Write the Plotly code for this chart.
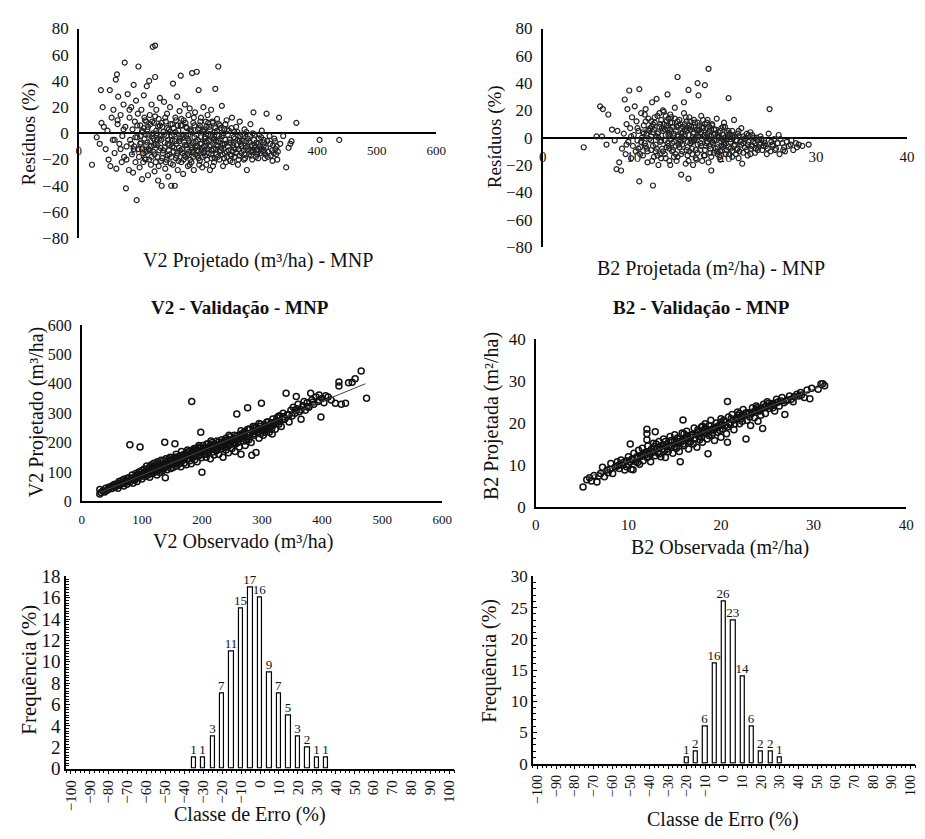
import plotly.graph_objects as go

FONT = "'Liberation Serif', 'Times New Roman', Times, 'DejaVu Serif', serif"

# ---------------- data ----------------
# Panel 1: V2 residuals (x = V2 projetado m3/ha, y = residuo %)
v2_res = [
 (22,-24),(30,-3),(35,-8),(37,33),(38,8),(40,20),(42,5),(45,-12),(48,2),(50,-20),(52,33),(53,-25),(55,12),(57,-5),(58,18),(60,-15),
 (62,41),(63,-27),(64,45),(65,7),(66,28),(68,-8),(70,14),(72,-22),(73,-2),(75,22),(76,-18),(77,54),(78,5),(79,-42),(80,-10),
 (82,30),(84,-28),(85,12),(86,-5),(88,20),(89,-16),(90,3),(91,-30),(92,37),(93,-10),(94,9),(95,-22),(96,25),(97,-51),(98,-3),(99,15),
 (100,51),(100,-12),(102,-26),(103,6),(104,-7),(105,18),(106,-35),(107,1),(108,-15),(109,29),(110,-4),(111,10),(112,-20),(113,-9),
 (114,36),(115,3),(116,-32),(117,-12),(118,40),(119,14),(120,-6),(121,-24),(122,22),(123,-2),(124,66),(125,-14),(126,8),(127,-29),
 (128,67),(128,43),(129,-8),(130,18),(131,0),(132,-18),(133,-36),(134,11),(135,-4),(136,27),(137,-11),(138,-21),(139,-40),(140,5),
 (142,-13),(143,24),(144,-7),(145,-27),(146,9),(147,-2),(148,15),(149,-17),(150,-33),(151,3),(152,-9),(153,20),(154,-23),(155,-40),
 (156,-5),(157,7),(158,38),(159,-14),(160,-1),(161,-40),(162,12),(163,-19),(164,-8),(165,28),(166,-28),(167,2),(168,-11),(169,17),
 (170,-4),(171,44),(172,-22),(173,6),(174,-15),(175,-31),(176,10),(177,-7),(178,22),(179,-18),(180,-2),(181,4),(182,-12),(183,-25),
 (184,14),(185,-6),(186,19),(187,-20),(188,-9),(189,1),(190,46),(191,-14),(192,8),(193,-28),(194,-3),(195,16),(196,-11),(198,47),
 (199,-17),(200,-5),(201,33),(202,4),(203,-21),(204,-8),(205,12),(206,-13),(207,-26),(208,2),(209,20),(210,-10),(211,-4),(212,-17),
 (213,9),(214,-24),(215,-7),(216,14),(217,-1),(218,-15),(219,5),(220,-28),(221,-9),(222,18),(223,-19),(224,-3),(225,8),(226,-12),
 (227,-22),(228,1),(229,34),(230,-6),(231,-16),(232,11),(233,-10),(234,51),(235,-2),(236,-20),(237,6),(238,-13),(240,21),(241,-8),
 (242,-25),(244,3),(245,-15),(246,-5),(248,10),(249,-18),(250,-10),(252,2),(254,-21),(255,-7),(257,12),(258,-14),(260,-3),
 (262,-18),(264,5),(265,-9),(267,-24),(268,-12),(270,9),(271,-2),(273,-15),(275,-6),(277,-20),(278,3),(280,-11),(282,-28),(284,-4),
 (286,-16),(288,7),(290,-9),(292,-13),(293,16),(295,-1),(297,-18),(298,-7),(300,-12),(302,-4),(305,-15),(307,2),(310,-10),(312,-19),
 (315,15),(316,-6),(318,-14),(320,-2),(322,-17),(325,-21),(326,-9),(328,-4),(330,-12),(331,-16),(333,-20),(336,12),(338,-8),
 (343,-2),(348,-26),(352,-11),(355,-8),(357,-6),(365,8),(404,-5),(437,-5),
 (92,-12),(95,-3),(98,6),(101,-18),(103,-8),(106,2),(108,-22),(110,12),(112,-1),(114,-14),(116,5),(118,-20),(121,-10),(123,9),
 (125,-4),(127,-16),(130,2),(132,-9),(134,-25),(136,6),(138,-5),(141,-15),(143,-1),(145,12),(147,-20),(149,-8),(151,-13),(153,1),
 (155,-18),(157,-10),(159,4),(161,-6),(163,10),(165,-15),(167,-21),(169,-3),(171,6),(173,-12),(175,-1),(177,-17),(179,8),(181,-9),
 (183,-4),(185,-14),(187,3),(189,-22),(191,-7),(193,12),(195,-16),(197,-1),(199,-10),(201,-19),(203,6),(205,-3),(207,-11),(209,-15),
 (211,3),(213,-6),(215,-20),(217,8),(219,-10),(221,-2),(223,-13),(225,-25),(227,-5),(229,4),(231,-9),(233,-18),(235,7),(237,-4),
 (239,-11),(241,-16),(243,0),(245,-8),(247,-22),(249,3),(251,-13),(253,-5),(256,-17),(259,-9),(261,1),(263,-12),(266,-5),(269,-17),
 (272,-8),(274,-1),(276,-13),(279,-19),(281,-6),(283,-10),(287,-2),(289,-14),(291,-20),(294,-5),(296,-11),(299,-16),(301,-8),
 (304,-10),(306,-3),(309,-14),(311,-7),(314,-11),(317,-18),(321,-8),(324,-13),(327,-15),(329,-6),(332,-10),(334,-14),(60,-5),
 (65,10),(70,-12),(75,3),(80,-20),(85,18),(88,-8),
 (104,-2),(106,-12),(109,4),(111,-19),(113,9),(115,-7),(117,-1),(119,-13),(120,7),(122,-18),(124,0),(126,-9),(128,13),(129,-22),
 (131,-5),(133,5),(135,-13),(137,-2),(139,8),(140,-19),(142,1),(144,-11),(146,-22),(148,4),(150,-5),(152,-16),(154,7),(156,-2),
 (158,-24),(160,-11),(162,1),(164,-17),(166,6),(168,-6),(170,-13),(172,11),(174,-3),(176,-20),(178,-9),(180,5),(182,-16),(184,-1),
 (186,-24),(188,2),(190,-11),(192,-18),(194,6),(196,-6),(198,-13),(200,3),(202,-24),(204,9),(206,-8),(208,-18),(210,1),(212,-3),
 (214,5),(216,-12),(218,-6),(220,3),(222,-16),(224,9),(226,-4),(228,-19),(230,-12),(232,2),(234,-6),(236,-14),(238,4),(240,-2),
 (242,-9),(244,-19),(246,7),(248,-14),(250,-1),(252,-7),(254,-16),(256,4),(258,-22),(260,-11),(262,-4),(264,-15),(266,1),(268,-20),
 (270,-6),(273,-10),(276,-2),(278,-16),(281,1),(284,-12),(286,-7),(289,-17),(292,0),(295,-9),(298,-13),(301,-19),(303,-1),
 (307,-12),(310,-5),(313,-16),
]

# Panel 2: B2 residuals (x = B2 projetada m2/ha, y = residuo %)
b2_res = [
 (4.5,-7),(5.9,1),(6.3,23),(6.5,1),(6.6,21),(7.0,-5),(7.2,17),(7.6,6),(7.9,-2),(8.1,-23),(8.2,5),(8.4,-18),(8.6,-24),(8.7,-8),
 (8.9,3),(9.0,28),(9.1,-12),(9.2,10),(9.3,21),(9.4,-3),(9.5,34.6),(9.6,7),(9.7,-15),(9.8,15),(9.9,-6),(10.0,2),
 (10.1,23),(10.2,-10),(10.3,12),(10.4,-2),(10.5,5),(10.6,35.6),(10.6,-32),(10.7,-7),(10.8,18),(10.9,0),(11.0,-13),(11.1,9),(11.2,-4),
 (11.3,21),(11.4,3),(11.5,-18),(11.6,14),(11.7,-1),(11.8,7),(11.9,-9),(12.0,26),(12.1,-35),(12.1,4),(12.2,-14),(12.3,11),(12.4,-5),
 (12.5,28.5),(12.5,1),(12.6,16),(12.7,-20),(12.8,8),(12.9,-3),(13.0,13),
 (13.1,-8),(13.2,5),(13.3,19),(13.4,-12),(13.5,2),(13.6,9),(13.7,31.7),(13.7,-4),(13.8,14),(13.9,-17),(14.0,6),(14.1,-1),(14.2,11),
 (14.3,-9),(14.4,3),(14.5,22),(14.6,-6),(14.7,8),(14.8,44.5),(14.8,-14),(14.9,1),(15.0,13),(15.1,-3),(15.2,-27),(15.2,7),(15.3,-10),
 (15.4,4),(15.5,26),(15.5,-1),(15.6,10),(15.7,-19),(15.8,5),(15.9,-7),(16.0,35),(16.0,-30),(16.0,2),(16.1,15),(16.2,-4),(16.3,8),
 (16.4,-12),(16.5,3),(16.6,-2),(16.7,11),(16.8,-15),(16.9,6),(17.0,40),(17.0,-5),
 (17.1,31),(17.1,1),(17.2,9),(17.3,-9),(17.4,4),(17.5,-1),(17.6,13),(17.7,-13),(17.8,38.5),(17.8,2),(17.9,-6),(18.0,7),(18.1,-3),
 (18.2,50.5),(18.2,-18),(18.3,5),(18.4,-8),(18.5,-24),(18.5,1),(18.6,10),(18.7,-4),(18.8,-11),(18.9,3),(19.0,-2),(19.1,14),(19.2,-7),
 (19.3,0),(19.4,-14),(19.5,5),(19.6,-3),(19.7,-9),(19.8,2),(19.9,-5),(20.0,8),(20.1,-12),(20.2,-1),(20.4,29),(20.4,-7),(20.5,3),
 (20.6,-3),(20.8,-10),(20.9,0),
 (21.0,13),(21.1,-5),(21.3,-2),(21.4,-8),(21.6,1),(21.8,7),(21.9,-19),(22.0,-4),(22.2,-1),(22.4,-9),(22.6,2),(22.8,4),(22.9,-6),
 (23.1,-3),(23.3,-11),(23.5,0),(23.7,-7),(23.9,-4),(24.1,-9),(24.3,-2),(24.5,-6),(24.8,3),(24.9,21),(25.0,-10),
 (25.2,-5),(25.4,-1),(25.6,-8),(25.9,2),(26.0,-12),(26.3,-4),(26.5,-7),(26.8,-3),(27.0,-6),(27.5,-9),(27.8,-4),(28.1,-5),(28.5,-6),(29.2,-5),
 (12.2,6),(12.7,0),(13.3,10),(13.9,3),(14.4,-3),(14.9,9),(15.3,0),(15.8,12),(16.2,6),(16.7,-1),(17.3,3),(17.8,-9),(18.3,-1),(18.8,6),
 (19.2,2),(19.7,-1),(20.2,4),(13.5,16),(14.2,-10),(16.4,-8),(11.4,-8),(11.9,12),(17.5,8),(19.5,-10),(21.2,-12),(22.5,-13),(14.0,17),
 (15.0,-7),(18.0,11),(20.8,5),
 (11.0,4),(11.3,-6),(11.6,6),(11.9,-2),(12.1,10),(12.4,-10),(12.6,3),(12.9,-12),(13.1,7),(13.4,-2),(13.6,12),(13.8,-6),(14.1,4),
 (14.3,8),(14.6,-12),(14.8,2),(15.1,10),(15.3,-5),(15.6,6),(15.9,-13),(16.1,9),(16.3,-2),(16.6,13),(16.8,-9),(17.1,5),(17.3,-4),
 (17.6,7),(17.8,-13),(18.1,3),(18.3,-6),(18.6,9),(18.8,-2),(19.1,-10),(19.3,4),(19.6,-6),(19.8,8),(20.1,-4),(20.3,2),(20.6,-8),
 (20.8,-14),(21.1,1),(21.3,-9),(21.5,5),(21.7,-3),(22.0,-11),(22.3,0),(22.5,-5),(22.8,-8),(23.0,2),(23.3,-4),(23.6,-9),(23.9,1),
 (24.2,-6),(24.6,-12),(25.1,-3),(25.5,-9),(26.1,-1),(26.6,-10),(27.2,-5),(10.4,7),(10.7,-12),(9.7,1),(9.2,-5),(13.0,-15),(14.5,14),
 (16.0,-17),(17.0,11),(18.5,-14),(19.9,11),(15.5,18),(12.0,-17),(14.0,-20),(16.5,-20),(13.2,20),(17.4,16),
 (10.8,-3),(11.1,3),(11.3,12),(11.5,-10),(11.7,5),(11.9,1),(12.1,-6),(12.3,15),(12.5,-8),(12.7,4),(12.9,10),(13.0,-2),(13.2,-10),
 (13.4,6),(13.6,-7),(13.8,2),(14.0,11),(14.2,-4),(14.4,-14),(14.6,5),(14.8,12),(15.0,-1),(15.2,-12),(15.4,8),(15.6,2),(15.8,-9),
 (16.0,7),(16.2,12),(16.4,-3),(16.6,4),(16.8,0),(17.0,-11),(17.2,6),(17.4,-6),(17.6,1),(17.8,10),(18.0,-4),(18.2,4),(18.4,-11),
 (18.6,-3),(18.8,2),(19.0,6),(19.2,-12),(19.4,1),(19.6,7),(19.8,-7),(20.0,0),(20.2,-9),(20.4,5),(20.6,-1),(20.8,2),(21.0,-6),
 (21.2,-2),(21.4,3),(21.6,-10),(21.8,-5),(22.0,1),(22.2,-7),(22.4,3),(22.6,-3),(22.8,-12),(23.0,-6),(23.2,0),(23.4,-8),(23.6,-2),
 (23.8,-5),(24.0,-1),(24.4,-4),(24.7,-8),(25.3,-6),(25.8,-4),(26.4,-9),(27.3,-2),(27.9,-7),(12.0,8),(12.6,-13),(13.5,-15),(14.1,15),
 (15.7,15),(16.9,-16),(18.1,13),(19.5,-16),(10.5,-8),(11.2,17),(13.9,-8),(15.9,-3),(17.9,0),(19.9,-3),(14.7,-17),(16.1,-10),
 (12.8,18),(13.7,7),(15.2,3),(16.6,8),(18.3,8),(19.0,-8),(20.5,-12),(21.5,-15),(17.5,-17),(14.9,-5),
]

# Panel 3: V2 validation (x = observado, y = projetado)
v2_val = [
 (30,25),(30,40),(32,30),(35,35),(38,32),(40,45),(42,38),(45,42),(48,50),(50,44),(52,55),(55,48),(57,52),(60,60),(60,45),(62,55),
 (65,58),(66,70),(68,62),(70,52),(70,75),(72,65),(75,70),(75,58),(78,80),(80,66),(80,193),(82,74),(84,90),(85,62),(87,80),(88,72),
 (90,95),(90,78),(92,68),(93,85),(95,100),(95,80),(97,185),(98,88),(100,76),(100,105),
 (102,92),(104,110),(105,85),(107,98),(108,120),(110,90),(110,102),(112,115),(113,82),(115,108),(116,125),(118,96),(120,112),
 (120,130),(122,100),(124,118),(125,90),(126,135),(128,108),(130,122),(130,98),(132,140),(134,115),(135,105),(136,128),(138,201),
 (139,80),(140,118),(140,145),(142,108),(144,132),(145,122),(147,150),(148,112),(150,138),(150,125),(152,115),(154,148),(155,196),
 (155,130),(157,160),(158,120),(160,142),(160,135),(162,128),(164,155),(165,118),(166,170),(168,140),(170,148),(170,130),(172,162),
 (174,125),(175,155),(176,175),(178,145),(180,138),(180,160),(182,128),(183,340),(184,168),(185,150),(187,180),(188,142),(190,160),
 (190,170),(192,135),(194,185),(195,155),(197,165),(198,235),(199,148),(200,99),(200,175),
 (202,190),(204,160),(205,170),(207,150),(208,182),(210,195),(210,165),(212,175),(214,145),(215,188),(217,200),(218,168),(220,180),
 (220,158),(222,195),(224,172),(225,205),(227,185),(228,160),(230,192),(232,178),(233,210),(235,150),(236,198),(238,185),(240,175),
 (240,215),(242,200),(244,165),(245,190),(247,220),(248,205),(250,180),(252,195),(254,225),(255,170),(257,210),(258,297),(260,200),
 (262,185),(264,228),(265,160),(267,215),(268,205),(270,235),(272,190),(274,220),(276,318),(276,245),(278,210),(280,230),(282,200),
 (283,157),(285,240),(287,225),(290,166),(290,250),(292,235),(295,215),(297,255),(299,334),(300,240),
 (302,225),(305,260),(308,245),(310,270),(312,235),(315,255),(317,229),(318,280),(320,265),(322,245),(325,285),(328,270),(330,290),
 (332,255),(335,300),(338,280),(340,368),(342,295),(345,270),(348,310),(350,290),(352,320),(355,300),(357,357),(358,315),(360,330),
 (362,305),(365,279),(368,325),(370,340),(372,310),(375,335),(378,320),(381,368),(383,345),(386,330),(390,355),(393,340),(395,362),
 (398,287),(400,350),(403,335),(406,359),(410,355),(415,345),(422,334),(428,392),(428,406),(432,330),(439,334),(444,403),(450,405),
 (455,417),(465,443),(474,351),
 (45,48),(55,58),(65,62),(75,78),(85,80),(95,92),(105,100),(115,115),(125,112),(135,122),(145,135),(155,140),(165,150),(175,165),
 (185,160),(195,170),(205,180),(215,178),(225,190),(235,200),(245,210),(255,215),(265,225),(275,232),(285,238),(295,248),(305,250),
 (315,268),(325,275),(335,288),(345,295),(355,310),(365,312),(375,322),(385,338),(395,345),(62,68),(78,72),(92,88),(108,108),
 (118,106),(128,125),(138,130),(148,128),(158,150),(168,158),(178,158),(188,170),(198,182),(208,195),(218,188),(228,202),(238,208),
 (248,195),(258,222),(268,230),(278,245),(288,255),(298,262),(308,270),(318,258),(328,290),
 (100,90),(106,95),(112,104),(118,118),(124,105),(130,115),(136,138),(142,125),(148,140),(154,135),(160,150),(166,145),(172,150),
 (178,170),(184,155),(190,180),(196,160),(202,175),(208,168),(214,190),(220,195),(226,178),(232,200),(238,195),(244,205),(250,210),
 (256,195),(262,215),(268,220),(274,205),(280,245),(286,230),(292,245),(298,230),(304,245),(310,255),(316,245),(322,270),(328,262),
 (334,278),(115,95),(125,128),(135,112),(145,145),(155,150),(165,140),(175,145),(185,175),(195,190),(205,160),(215,205),(225,175),
 (235,185),(245,225),(255,200),(265,240),(275,215),(285,255),(295,265),(305,235),
]
v2_trend_x = [30, 472]
v2_trend_y = [30, 400]

# Panel 4: B2 validation (x = observada, y = projetada)
b2_val = [
 (5.1,4.8),(5.5,6.5),(5.8,7.0),(6.0,6.2),(6.3,7.5),(6.6,6.0),(7.0,8.0),(7.2,9.5),(7.4,7.2),(7.7,8.8),(8.0,9.0),(8.1,10.4),(8.3,8.0),
 (8.6,9.6),(8.8,10.8),(9.0,9.2),(9.2,11.2),(9.4,10.0),(9.6,8.8),(9.8,11.0),(10.0,10.2),(10.0,12.0),
 (10.2,15.0),(10.3,9.0),(10.4,11.5),(10.5,8.9),(10.6,12.8),(10.8,10.8),(11.0,11.6),(11.1,13.5),(11.2,10.2),(11.4,12.4),(11.5,14.0),
 (11.6,11.0),(11.8,13.0),(12.0,18.5),(12.0,17.4),(12.0,16.0),(12.0,11.8),(12.1,14.5),(12.3,12.6),(12.4,10.8),(12.5,13.8),(12.7,15.2),
 (12.9,17.9),(12.9,12.2),(13.0,14.0),(13.2,13.0),(13.3,15.6),(13.5,12.0),(13.6,14.6),(13.8,16.2),(13.9,13.5),(14.0,11.8),(14.2,15.0),
 (14.3,13.2),(14.5,16.8),(14.6,14.2),(14.8,12.8),(15.0,15.6),(15.0,17.2),
 (15.2,14.0),(15.3,16.4),(15.5,13.2),(15.6,10.8),(15.7,15.4),(15.8,17.6),(15.9,20.7),(16.0,14.6),(16.2,16.0),(16.3,18.0),(16.5,13.8),
 (16.6,15.6),(16.8,17.2),(17.0,15.0),(17.1,18.8),(17.2,16.4),(17.4,14.2),(17.5,17.8),(17.7,16.0),(17.9,19.0),(18.0,15.4),(18.2,17.6),
 (18.3,19.8),(18.5,16.2),(18.6,12.7),(18.7,18.4),(18.9,20.6),(19.0,17.0),(19.2,18.8),(19.3,15.8),(19.5,20.0),(19.6,17.8),(19.8,19.4),
 (20.0,21.0),(20.0,16.6),
 (20.2,18.6),(20.4,20.2),(20.6,17.4),(20.7,25.1),(20.7,15.4),(20.8,21.4),(21.0,19.6),(21.2,22.0),(21.4,18.4),(21.6,20.8),(21.8,22.6),
 (22.0,19.8),(22.2,21.6),(22.4,23.2),(22.7,16.2),(22.8,20.6),(23.0,22.4),(23.2,19.4),(23.4,23.6),(23.6,21.2),(23.8,24.0),(24.0,20.4),
 (24.2,22.8),(24.5,18.7),(24.6,24.4),(24.8,22.2),(25.0,25.0),(25.2,23.4),(25.5,24.6),(25.8,22.8),(26.0,25.6),(26.3,24.0),(26.6,26.0),
 (26.9,22.0),(27.0,25.2),(27.4,26.4),(27.8,25.0),(28.2,26.8),(28.6,27.2),(29.0,26.0),(29.3,27.8),(29.6,25.7),(29.8,28.2),(30.5,28.0),
 (30.8,29.2),(31.0,29.3),(31.2,28.8),
 (6.8,7.4),(7.8,8.2),(8.8,9.8),(9.5,10.6),(10.2,10.8),(10.9,12.0),(11.3,12.0),(11.8,12.4),(12.2,13.2),(12.6,13.0),(13.1,13.8),
 (13.4,14.2),(13.7,13.8),(14.1,14.4),(14.4,14.6),(14.7,15.4),(15.1,15.0),(15.4,15.6),(15.8,15.8),(16.1,16.4),(16.4,16.2),(16.7,16.6),
 (17.0,17.2),(17.3,17.4),(17.6,16.8),(17.9,17.6),(18.1,18.2),(18.4,17.8),(18.7,17.0),(19.1,18.4),(19.4,18.6),(19.7,19.0),(20.1,19.6),
 (20.5,19.4),(20.9,20.0),(21.3,20.6),(21.7,21.2),(22.1,21.0),(22.5,21.8),(22.9,22.0),(23.3,22.2),(23.7,22.8),(24.1,23.0),(24.4,23.4),
 (24.9,23.8),(25.3,24.2),(25.7,24.4),(26.2,25.0),(26.8,24.8),(27.6,25.6),(28.4,26.4),
 (9.0,10.0),(9.8,9.6),(10.5,11.2),(11.0,10.6),(11.6,12.6),(12.2,12.0),(12.8,14.4),(13.3,12.6),(13.8,14.8),(14.2,13.8),(14.6,15.8),
 (15.0,14.4),(15.5,16.2),(15.9,15.0),(16.3,17.0),(16.7,15.4),(17.1,16.2),(17.5,18.4),(17.9,16.6),(18.3,18.8),(18.7,19.4),(19.1,17.6),
 (19.5,19.0),(19.9,18.2),(20.3,20.6),(20.7,19.0),(21.1,21.0),(21.5,19.8),(21.9,21.8),(22.3,20.4),(22.7,22.4),(23.1,21.4),(23.5,22.6),
 (23.9,23.6),(24.3,21.8),(24.7,23.8),(25.1,24.6),(25.6,23.6),(26.0,24.8),(26.5,25.2),(27.2,25.4),(27.9,26.2),(28.7,26.6),(13.0,15.0),
 (14.0,15.6),(16.0,17.4),(18.0,19.2),(20.0,20.2),(22.0,22.2),(24.0,23.2),
]
b2_trend_x = [5.5, 31.2]
b2_trend_y = [7.0, 29.0]

# Panels 5/6: error class histograms
classes_v2 = [-35, -30, -25, -20, -15, -10, -5, 0, 5, 10, 15, 20, 25, 30, 35]
freq_v2 = [1, 1, 3, 7, 11, 15, 17, 16, 9, 7, 5, 3, 2, 1, 1]
classes_b2 = [-20, -15, -10, -5, 0, 5, 10, 15, 20, 25, 30]
freq_b2 = [1, 2, 6, 16, 26, 23, 14, 6, 2, 2, 1]
class_ticks = list(range(-100, 101, 10))

# ---------------- figure ----------------
W, H = 925, 839
def fx(px): return px / W
def fy(py): return 1 - py / H

fig = go.Figure()

def xs(pts): return [p[0] for p in pts]
def ys(pts): return [p[1] for p in pts]

small = dict(symbol="circle-open", size=5, color="#222", line=dict(width=1.2, color="#222"))
big = dict(symbol="circle-open", size=6, color="#111", line=dict(width=1.5, color="#111"))

fig.add_trace(go.Scatter(x=xs(v2_res), y=ys(v2_res), mode="markers", marker=small, xaxis="x", yaxis="y"))
fig.add_trace(go.Scatter(x=xs(b2_res), y=ys(b2_res), mode="markers", marker=small, xaxis="x2", yaxis="y2"))
fig.add_trace(go.Scatter(x=xs(v2_val), y=ys(v2_val), mode="markers", marker=big, xaxis="x3", yaxis="y3"))
fig.add_trace(go.Scatter(x=v2_trend_x, y=v2_trend_y, mode="lines", line=dict(color="#444", width=1), xaxis="x3", yaxis="y3"))
fig.add_trace(go.Scatter(x=xs(b2_val), y=ys(b2_val), mode="markers", marker=big, xaxis="x4", yaxis="y4"))
fig.add_trace(go.Scatter(x=b2_trend_x, y=b2_trend_y, mode="lines", line=dict(color="#444", width=1), xaxis="x4", yaxis="y4"))

barstyle = dict(color="white", line=dict(color="black", width=1.2))
lblfont = dict(family=FONT, size=13, color="#111")
for cls, frq, xa, ya in [(classes_v2, freq_v2, "x5", "y5"), (classes_b2, freq_b2, "x6", "y6")]:
    fig.add_trace(go.Bar(x=cls, y=frq, width=2.3, marker=barstyle, text=[str(v) for v in frq],
                         textposition="outside", textfont=lblfont, outsidetextfont=lblfont,
                         constraintext="none", cliponaxis=False, xaxis=xa, yaxis=ya))

def tfont(size): return dict(family=FONT, size=size, color="#111")
line_common = dict(showline=True, linecolor="black", linewidth=1.6, showgrid=False, zeroline=False,
                   layer="below traces")
hidden_ticks = dict(ticks="outside", ticklen=5, tickcolor="rgba(0,0,0,0)")

d1x = [fx(76), fx(439)]; d1y = [fy(234), fy(19)]
d2x = [fx(547), fx(917)]; d2y = [fy(243), fy(19)]
d3x = [fx(79), fx(445)]; d3y = [fy(504), fy(323)]
d4x = [fx(540), fx(916)]; d4y = [fy(510), fy(337)]
d5x = [fx(63), fx(457)]; d5y = [fy(778), fy(581)]
d6x = [fx(537), fx(925)]; d6y = [fy(773), fy(581)]

def hist_x(size):
    return dict(range=[-102.5, 102.5], tickvals=class_ticks, tickangle=-90,
                showline=True, linecolor="black", linewidth=1.6, showgrid=False, zeroline=False,
                ticks="outside", ticklen=4, tickcolor="black", tickfont=tfont(size),
                minor=dict(dtick=2.5, tick0=0, ticks="outside", ticklen=3, tickcolor="black", showgrid=False))
hist_y = dict(showline=True, linecolor="black", linewidth=1.6, showgrid=False, zeroline=False,
              ticks="inside", ticklen=4, tickcolor="black")

fig.update_layout(
    width=W, height=H, margin=dict(l=0, r=0, t=0, b=0),
    paper_bgcolor="white", plot_bgcolor="white", showlegend=False,
    font=dict(family=FONT, color="#111"),
    bargap=0,
    xaxis=dict(domain=d1x, range=[0, 600], dtick=100, anchor="free", position=(d1y[0] + d1y[1]) / 2,
               tickfont=tfont(13), **line_common, **hidden_ticks),
    yaxis=dict(domain=d1y, range=[-80, 80], dtick=20, anchor="x", tickfont=tfont(17), **line_common, **hidden_ticks),
    xaxis2=dict(domain=d2x, range=[0, 40], dtick=10, anchor="free", position=(d2y[0] + d2y[1]) / 2,
                tickfont=tfont(15), **line_common, **hidden_ticks),
    yaxis2=dict(domain=d2y, range=[-80, 80], dtick=20, anchor="x2", tickfont=tfont(17), **line_common, **hidden_ticks),
    xaxis3=dict(domain=d3x, range=[0, 600], dtick=100, anchor="y3", tickfont=tfont(13), **line_common, **hidden_ticks),
    yaxis3=dict(domain=d3y, range=[0, 600], dtick=100, anchor="x3", tickfont=tfont(16), **line_common, **hidden_ticks),
    xaxis4=dict(domain=d4x, range=[0, 40], dtick=10, anchor="y4", tickfont=tfont(15), ticks="outside", ticklen=3,
                tickcolor="rgba(0,0,0,0)", **line_common),
    yaxis4=dict(domain=d4y, range=[0, 40], dtick=10, anchor="x4", tickfont=tfont(17), **line_common, **hidden_ticks),
    xaxis5=dict(domain=d5x, anchor="y5", **hist_x(15)),
    yaxis5=dict(domain=d5y, range=[0, 18], dtick=2, anchor="x5", tickfont=tfont(19), **hist_y,
                minor=dict(dtick=0.25, ticks="inside", ticklen=3, tickcolor="black", showgrid=False)),
    xaxis6=dict(domain=d6x, anchor="y6", **hist_x(14)),
    yaxis6=dict(domain=d6y, range=[0, 30], dtick=5, anchor="x6", tickfont=tfont(17), **hist_y,
                minor=dict(dtick=1, ticks="inside", ticklen=3, tickcolor="black", showgrid=False)),
)

def ann(text, px, py, size=20, angle=0, bold=False):
    fig.add_annotation(text=f"<b>{text}</b>" if bold else text, x=fx(px), y=fy(py), xref="paper", yref="paper",
                       showarrow=False, textangle=angle, xanchor="center", yanchor="middle",
                       font=dict(family=FONT, size=size, color="#111"))

ann("Resíduos (%)", 25, 127, size=19, angle=-90)
ann("V2 Projetado (m³/ha) - MNP", 258, 257)
ann("Resíduos (%)", 498, 130, size=19, angle=-90)
ann("B2 Projetada (m²/ha) - MNP", 718, 265)
ann("V2 - Validação - MNP", 240, 305, size=19, bold=True)
ann("V2 Projetado (m³/ha)", 33, 413, angle=-90)
ann("V2 Observado (m³/ha)", 243, 545)
ann("B2 - Validação - MNP", 708, 305, size=19, bold=True)
ann("B2 Projetada (m²/ha)", 495, 417, angle=-90)
ann("B2 Observada (m²/ha)", 727, 551)
ann("Frequência (%)", 25, 677, size=21, angle=-90)
ann("Classe de Erro (%)", 250, 825)
ann("Frequência (%)", 493, 668, angle=-90)
ann("Classe de Erro (%)", 730, 830)

fig.write_html("out.html")
